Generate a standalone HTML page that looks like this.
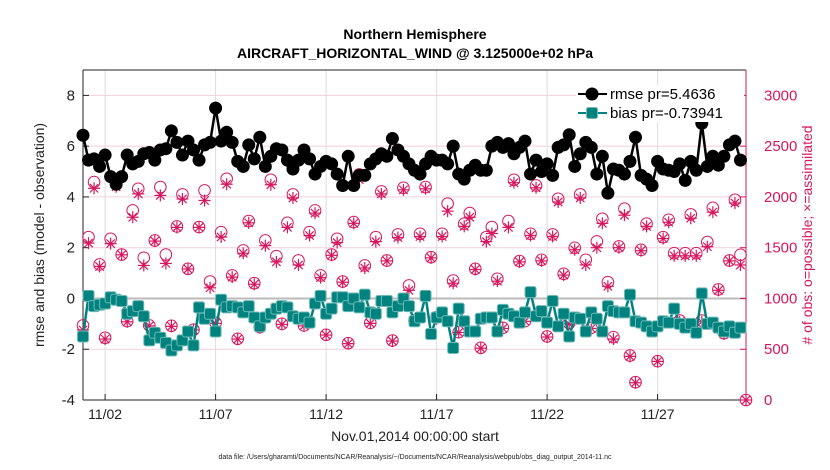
<!DOCTYPE html>
<html><head><meta charset="utf-8"><style>
body{margin:0;background:#fff;}
svg{display:block;font-family:"Liberation Sans",Arial,sans-serif;}
</style></head><body>
<svg id="chart" width="830" height="470" viewBox="0 0 830 470">
<text x="415" y="39" text-anchor="middle" font-size="14" font-weight="bold" fill="#000">Northern Hemisphere</text>
<text x="415" y="58" text-anchor="middle" font-size="14" font-weight="bold" fill="#000">AIRCRAFT_HORIZONTAL_WIND @ 3.125000e+02 hPa</text>
<g id="grid"></g>
<g id="axes"></g>
<g id="marks"></g>
<text transform="translate(44,235) rotate(-90)" text-anchor="middle" font-size="14" fill="#222">rmse and bias (model - observation)</text>
<text transform="translate(812,235) rotate(-90)" text-anchor="middle" font-size="14" fill="#d6175e"># of obs: o=possible; ×=assimilated</text>
<text x="415" y="441" text-anchor="middle" font-size="14" fill="#222">Nov.01,2014 00:00:00 start</text>
<text x="415" y="459" text-anchor="middle" font-size="7" fill="#222">data file: /Users/gharamti/Documents/NCAR/Reanalysis/~/Documents/NCAR/Reanalysis/webpub/obs_diag_output_2014-11.nc</text>
<g id="legend"></g>
</svg>
<script>
const rmse=[6.43,5.45,5.5,5.2,5.65,4.8,4.5,4.8,5.65,5.3,5.4,5.7,5.75,5.45,5.85,5.9,6.6,6.15,5.65,6.2,5.85,5.45,6.05,6.15,7.5,6.2,6.55,6.15,5.4,5.2,6.05,5.5,6.35,5.2,5.6,5.9,5.85,5.45,5.1,5.45,5.85,5.5,4.9,5.2,5.4,5.3,4.9,4.45,5.6,4.45,4.85,4.85,5.3,5.5,5.7,5.6,6.3,5.85,5.6,5.3,5.05,4.9,5.3,5.6,5.45,
5.45,5.3,6.0,4.9,4.7,5.05,5.25,5.05,5.05,6.0,6.15,5.95,6.1,5.7,5.95,6.2,4.9,5.45,5.0,5.3,4.85,5.95,6.05,6.45,5.2,5.7,6.15,5.95,4.9,5.6,4.15,5.1,5.05,4.9,5.4,6.35,4.85,4.7,4.45,5.4,5.1,5.05,5.0,5.3,4.65,5.4,5.05,6.9,5.2,5.6,5.25,5.6,6.05,6.2,5.45];
const bias=[-1.5,0.1,-0.3,-0.25,-0.2,0.05,-0.05,-0.1,-0.6,-0.5,-0.3,-0.7,-1.65,-1.35,-1.55,-1.75,-2.05,-1.85,-1.65,-1.3,-1.85,-0.35,-0.8,-0.6,-1.3,-0.05,-0.35,-0.3,-0.35,-0.55,-0.3,-0.75,-1.1,-0.75,-0.6,-0.4,-0.3,-0.35,-0.7,-0.8,-0.75,-0.95,-0.2,0.1,-0.6,-0.4,0.05,0.05,-0.3,0,-0.35,0.15,-0.55,-0.6,-0.1,-0.1,-0.55,-0.3,0,-0.3,-0.9,-0.75,0.1,-1.4,-0.75,
-0.55,-0.9,-1.95,-0.4,-0.9,-1.3,-1.3,-0.8,-0.75,-0.75,-1.3,-0.45,-0.6,-0.7,-0.95,-0.55,0.25,-0.7,-0.5,-0.95,-0.1,-1.1,-0.6,-1.5,-0.75,-0.8,-1.3,-0.55,-0.8,-1.3,-0.3,-0.5,-0.55,-0.55,0.15,-0.9,-0.95,-1.1,-1.3,-1.1,-0.9,-0.95,-0.4,-1.0,-1.15,-1.0,-1.35,0.2,-1.0,-0.95,-1.15,-1.3,-1.1,-1.35,-1.15];
const possible=[734,1604,2146,1335,613,1588,2123,1433,777,1867,2080,1401,734,1571,2097,1433,731,1709,2025,1292,692,1703,2064,1167,760,1653,2179,1227,603,1473,1762,
1151,717,1571,2169,1417,750,1745,2025,1374,734,1653,1867,1227,642,1433,1588,1167,560,1752,2222,1325,760,1604,2054,1374,586,1631,2090,1128,783,
1637,2097,1407,816,1637,1933,1177,668,1736,1841,1292,514,1604,1703,1194,711,1762,2169,1368,777,1637,2113,1381,626,1631,1982,1243,757,1499,2025,
1381,711,1562,1785,1161,619,1512,1884,438,175,1479,1736,692,382,1604,1775,1446,783,1446,1828,1446,783,1555,1893,1089,658,1374,1972,1430,0];
const assimilated=[690,1545,2085,1315,600,1540,2100,1430,770,1800,2030,1325,730,1565,2015,1345,725,1700,1980,1290,690,1700,1965,1105,755,1605,2125,1210,600,1445,1745,
1140,712,1520,2120,1360,745,1700,1990,1330,730,1620,1840,1205,640,1425,1550,1160,555,1740,2170,1300,755,1560,2030,1370,580,1600,2070,1080,780,
1610,2080,1400,800,1610,1860,1150,665,1710,1800,1285,510,1560,1640,1170,705,1700,2140,1360,775,1620,2090,1370,620,1610,1950,1230,750,1480,1990,
1330,705,1500,1740,1120,600,1500,1820,430,170,1470,1710,680,380,1590,1750,1420,770,1420,1790,1420,770,1510,1850,1080,650,1370,1940,1330,0];
const xTickDays=[1,6,11,16,21,26];
const xTickLabels=["11/02","11/07","11/12","11/17","11/22","11/27"];
const leftTicks=[-4,-2,0,2,4,6,8];
const rightTicks=[0,500,1000,1500,2000,2500,3000];
const legendLabels=["rmse pr=5.4636","bias pr=-0.73941"];

const X0=83,X1=746,Y0=70,Y1=400,D0=0,D1=30,V0=-4,V1=9;
const PINK="#d6175e",TEAL="#00827f",NS="http://www.w3.org/2000/svg";
function xs(d){return X0+(d-D0)/(D1-D0)*(X1-X0);}
function yl(v){return Y1-(v-V0)/(V1-V0)*(Y1-Y0);}
function yr(c){return yl((c-1000)/250);}
function mk(tag,attrs,parent){const e=document.createElementNS(NS,tag);for(const k in attrs)e.setAttribute(k,attrs[k]);parent.appendChild(e);return e;}
const grid=document.getElementById('grid'),axes=document.getElementById('axes'),marks=document.getElementById('marks'),legend=document.getElementById('legend');

leftTicks.forEach(v=>{
  if(v!==V0){const l=mk('line',{x1:X0,x2:X1,y1:yl(v),y2:yl(v),stroke:'#f3cfdc','stroke-width':1},grid);
  
  }
  const t=mk('text',{x:X0-8,y:yl(v)+5,'text-anchor':'end','font-size':15,fill:'#222'},axes);t.textContent=v;
  
  
  mk('line',{x1:X0,x2:X0+6,y1:yl(v),y2:yl(v),stroke:'#222'},axes);
});
xTickDays.forEach((d,i)=>{
  const l=mk('line',{x1:xs(d),x2:xs(d),y1:Y0,y2:Y1,stroke:'#dcdcdc','stroke-width':1},grid);
  
  
  mk('line',{x1:xs(d),x2:xs(d),y1:Y1,y2:Y1-6,stroke:'#222'},axes);
  const t=mk('text',{x:xs(d),y:Y1+19,'text-anchor':'middle','font-size':14,fill:'#222'},axes);t.textContent=xTickLabels[i];
  
  
});
rightTicks.forEach(c=>{
  mk('line',{x1:X1,x2:X1-6,y1:yr(c),y2:yr(c),stroke:PINK},axes);
  const t=mk('text',{x:X1+18,y:yr(c)+5,'font-size':15,fill:PINK},axes);t.textContent=c;
  
  
});
const zl=mk('line',{x1:X0,x2:X1,y1:yl(0),y2:yl(0),stroke:'#bbb','stroke-width':2},grid);


mk('line',{x1:X0,x2:X1,y1:Y0,y2:Y0,stroke:'#222'},axes);
mk('line',{x1:X0,x2:X1,y1:Y1,y2:Y1,stroke:'#222'},axes);
mk('line',{x1:X0,x2:X0,y1:Y0,y2:Y1,stroke:'#222'},axes);
mk('line',{x1:X1,x2:X1,y1:Y0,y2:Y1,stroke:PINK},axes);

function td(i){return i*0.25;}
possible.forEach((c,i)=>{
  const e=mk('circle',{cx:xs(td(i)),cy:yr(c),r:5.8,fill:'none',stroke:PINK,'stroke-width':1},marks);
  
  
});
assimilated.forEach((c,i)=>{
  const x=xs(td(i)),y=yr(c),r=6;
  const g=mk('g',{stroke:PINK,'stroke-width':1.2},marks);
  
  
  mk('line',{x1:x-r,x2:x+r,y1:y,y2:y},g);
  mk('line',{x1:x,x2:x,y1:y-r,y2:y+r},g);
  mk('line',{x1:x-r*0.7,x2:x+r*0.7,y1:y-r*0.7,y2:y+r*0.7},g);
  mk('line',{x1:x-r*0.7,x2:x+r*0.7,y1:y+r*0.7,y2:y-r*0.7},g);
});
const bp=mk('polyline',{points:bias.map((v,i)=>xs(td(i))+','+yl(v)).join(' '),fill:'none',stroke:TEAL,'stroke-width':2.5},marks);


bias.forEach((v,i)=>{
  const e=mk('rect',{x:xs(td(i))-5.5,y:yl(v)-5.5,width:11,height:11,rx:2,fill:TEAL,stroke:'#6fb9b6','stroke-width':1},marks);
  
  
});
const rp=mk('polyline',{points:rmse.map((v,i)=>xs(td(i))+','+yl(v)).join(' '),fill:'none',stroke:'#000','stroke-width':2.5},marks);


rmse.forEach((v,i)=>{
  const e=mk('circle',{cx:xs(td(i)),cy:yl(v),r:6.5,fill:'#000'},marks);
  
  
});
[[0,'#000'],[1,TEAL]].forEach(([k,col])=>{
  const y=94+k*19;
  const g=mk('g',{},legend);
  
  
  mk('rect',{x:576,y:y-9,width:168,height:18,fill:'#fff'},g);
  mk('line',{x1:578,x2:607,y1:y,y2:y,stroke:col,'stroke-width':2},g);
  if(k===0)mk('circle',{cx:592,cy:y,r:6.5,fill:'#000'},g);
  else mk('rect',{x:586.5,y:y-5.5,width:11,height:11,rx:2,fill:TEAL,stroke:'#6fb9b6'},g);
  const t=mk('text',{x:610,y:y+5,'font-size':15,fill:'#000'},g);t.textContent=legendLabels[k];
});
</script>
</body></html>
